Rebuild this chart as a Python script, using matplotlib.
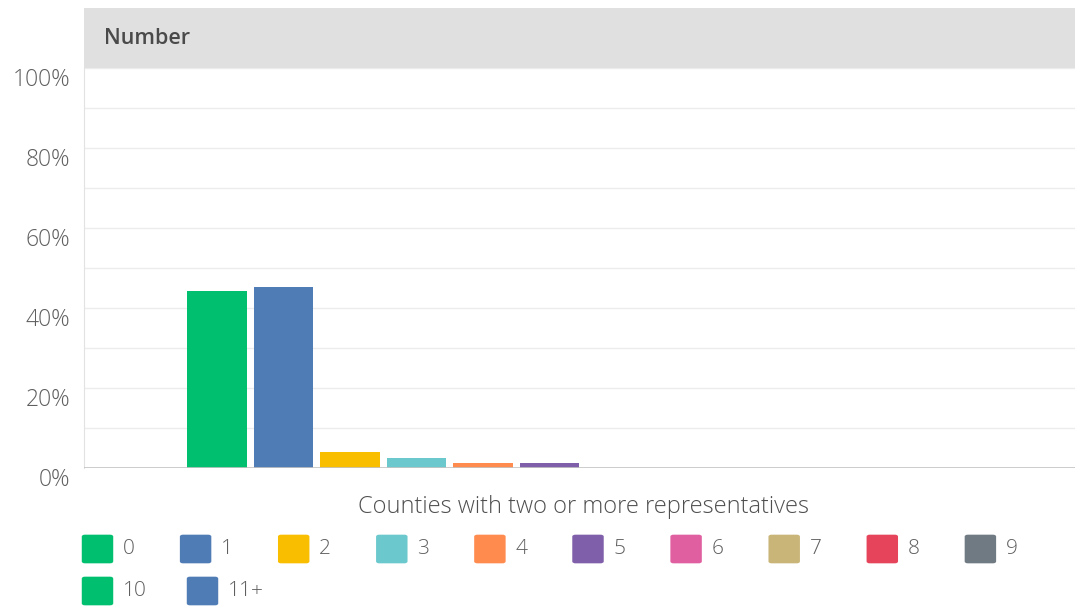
import numpy as np
import matplotlib
matplotlib.use("Agg")
import matplotlib.pyplot as plt
import matplotlib.transforms as mtransforms
from matplotlib.patches import Rectangle, FancyBboxPatch

plt.rcParams['font.family'] = ['Open Sans', 'DejaVu Sans']

categories = ["0", "1", "2", "3", "4", "5", "6", "7", "8", "9", "10", "11+"]
values = [44.2, 45.2, 4.1, 2.6, 1.25, 1.25, 0, 0, 0, 0, 0, 0]
colors = ["#00bf6f", "#507cb6", "#f9be00", "#6bc8cd", "#ff8b4f", "#7f5fa9",
          "#e05fa0", "#c9b577", "#e5445a", "#6f7a83", "#00bf6f", "#507cb6"]
yticks = [0, 20, 40, 60, 80, 100]
ytick_labels = ["0%", "20%", "40%", "60%", "80%", "100%"]
header = "Number"
xlabel = "Counties with two or more representatives"

W, H = 1075, 608
fig = plt.figure(figsize=(W / 100, H / 100), dpi=100)
ax = fig.add_axes([84 / W, (H - 468) / H, 991 / W, 400 / H])

x = np.arange(len(categories))
ax.bar(x, values, width=0.89, color=colors, zorder=3)
ax.set_xlim(-2.0, 12.9)
ax.set_ylim(0, 100)

# grid every 10%
for g in range(10, 101, 10):
    ax.axhline(g, color="#ececec", lw=1, zorder=1)
ax.axhline(0, color="#c4c4c4", lw=1.2, zorder=4)

for s in ["top", "right", "bottom"]:
    ax.spines[s].set_visible(False)
ax.spines["left"].set_color("#e2e2e2")
ax.set_xticks([])
ax.set_yticks(yticks)
ax.set_yticklabels(ytick_labels, fontsize=16.5, color="#5f5f5f", fontweight="light")
ax.tick_params(axis="y", length=0, pad=10)
offset = mtransforms.ScaledTranslation(0, -9 / 100, fig.dpi_scale_trans)
for lab in ax.get_yticklabels():
    lab.set_transform(lab.get_transform() + offset)

# header band
ax.add_patch(Rectangle((0, 1), 1, 60 / 400, transform=ax.transAxes,
                       facecolor="#e0e0e0", edgecolor="none", clip_on=False))
ax.text(20 / 991, 1 + 30 / 400, header, transform=ax.transAxes,
        fontsize=15.5, color="#4a4a4a", fontweight="semibold", va="center", ha="left")

fig.text(584 / W, 1 - 507 / H, xlabel, ha="center", va="center",
         fontsize=17, color="#4f4f4f", fontweight="light")

# legend
sq = 31
for i, (cat, col) in enumerate(zip(categories, colors)):
    if i < 10:
        lx, ly = 82 + 98.1 * i, 549
    else:
        lx, ly = 82 + 105 * (i - 10), 591
    fig.patches.append(FancyBboxPatch(
        ((lx + 3) / W, 1 - (ly + sq / 2 - 3) / H), (sq - 6) / W, (sq - 6) / H,
        boxstyle="round,pad=0.003", transform=fig.transFigure,
        facecolor=col, edgecolor="none"))
    fig.text((lx + sq + 10) / W, 1 - ly / H, cat, ha="left", va="center",
             fontsize=15, color="#5f5f5f", fontweight="light")

fig.savefig("out.png", dpi=100)
